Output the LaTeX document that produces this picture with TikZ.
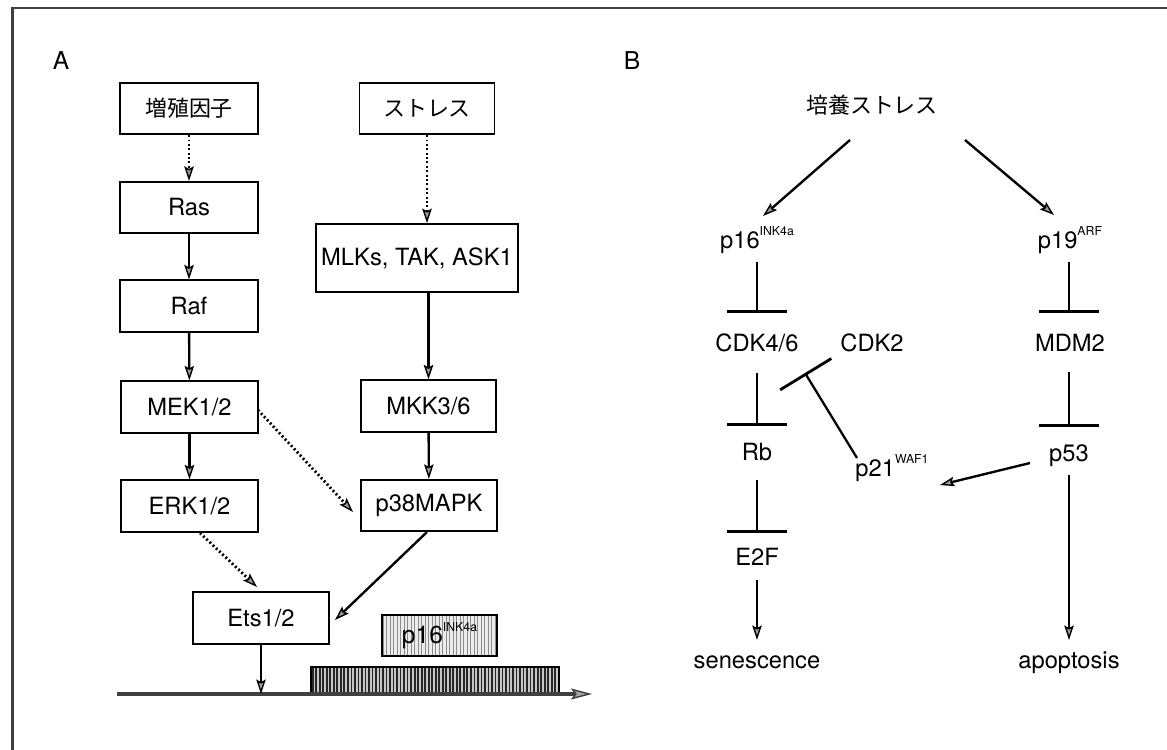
\documentclass[tikz,border=0pt]{standalone}
\usepackage{fontspec}
\setmainfont{TeX Gyre Heros}
\newfontfamily\jpfont{Noto Sans CJK JP}
\usetikzlibrary{arrows.meta,patterns.meta}
\newcommand{\supx}[1]{\raisebox{7pt}{\fontsize{7}{8}\selectfont #1}}

\begin{document}
\begin{tikzpicture}[x=0.02cm,y=-0.02cm,
  lbl/.style={font=\fontsize{13.5}{16}\selectfont, inner sep=0pt, text height=10pt, text depth=3pt},
  jlbl/.style={lbl, font=\jpfont\fontsize{12.5}{15}\selectfont},
  box/.style={draw, line width=1pt, rectangle, inner sep=0pt, minimum width=2.76cm,
              minimum height=1.03cm, font=\fontsize{13.5}{16}\selectfont},
  jbox/.style={box, font=\jpfont\fontsize{12.5}{15}\selectfont},
  arrhead/.style={-{Stealth[length=0.29cm,width=0.19cm,inset=0.05cm,fill=gray!75,line width=0.8pt]}},
  act/.style={line width=1.35pt, arrhead},
  dotact/.style={act, line width=1.6pt, dash pattern=on 1.1pt off 1.4pt},
  inh/.style={line width=1.3pt, -{Bar[width=1.2cm,line width=1.6pt]}},
]
\useasboundingbox (0,0) rectangle (1167,750);

% outer frame
\draw[line width=1.2pt, black!75] (12.5,750) -- (12.5,8) -- (1167,8);

% panel letters
\node[lbl, font=\fontsize{14}{16}\selectfont] (labA) at (61,63) {A};
\node[lbl, font=\fontsize{14}{16}\selectfont] (labB) at (632,63) {B};

% ---------- panel A: kinase cascades ----------
\node[jbox] (gf)  at (189,108.5) {増殖因子};
\node[jbox, minimum width=2.7cm] (st) at (427,108.5) {ストレス};
\node[box] (ras)  at (189,207.5) {Ras};
\node[box] (raf)  at (189,306) {Raf};
\node[box, minimum width=4.04cm, minimum height=1.36cm] (mlk) at (417,258) {MLKs, TAK, ASK1};
\node[box, minimum width=2.74cm] (mek) at (189.5,407) {MEK1/2};
\node[box, minimum width=2.7cm]  (mkk) at (428.5,406) {MKK3/6};
\node[box, minimum width=2.74cm] (erk) at (189.5,506) {ERK1/2};
\node[box, minimum width=2.72cm] (p38) at (429,505.5) {p38MAPK};
\node[box, minimum width=2.72cm] (ets) at (261,618) {Ets1/2};

% p16 gene: transcribed region and label
\node[draw, line width=0.8pt, minimum width=4.96cm, minimum height=0.52cm, inner sep=0pt,
      preaction={fill=gray!45},
      pattern={Lines[angle=90,distance=2pt,line width=1pt]}, pattern color=black!85]
      (exon) at (435,680) {};
\node[draw, line width=0.8pt, minimum width=2.3cm, minimum height=0.82cm, inner sep=0pt,
      preaction={fill=gray!15},
      pattern={Lines[angle=90,distance=2pt,line width=0.55pt]}, pattern color=black!45]
      (gene) at (439.5,635.5) {};
\node[font=\fontsize{14}{16}\selectfont, inner sep=0pt] (genelbl) at (gene.center) {p16\supx{INK4a}};

\coordinate (dnaL) at (117,694);
\coordinate (dnaR) at (592,694);
\draw[line width=1.9pt, black!75,
      -{Stealth[length=0.42cm,width=0.22cm,inset=0.08cm,fill=gray!70,line width=0.8pt]}] (dnaL) -- (dnaR);

\draw[dotact] (gf) -- (ras);
\draw[dotact] (st.south) -- (st.south |- mlk.north);
\draw[act] (ras) -- (raf);
\draw[act] (raf) -- (mek);
\draw[act] (mkk.north |- mlk.south) -- (mkk.north);
\draw[act] (mek) -- (erk);
\draw[act] (mkk) -- (p38);
\draw[dotact] ([shift={(68.5,3)}]mek.center) -- ([shift={(-76,6.5)}]p38.center);
\draw[dotact] ([shift={(10.5,27)}]erk.center) -- ([shift={(-4,-31)}]ets.center);
\draw[act] ([shift={(-2,26.5)}]p38.center) -- ([shift={(74,2)}]ets.center);
\draw[act] (ets.south) -- (ets.south |- dnaL);

% ---------- panel B: culture stress pathways ----------
\node[jlbl] (kst)   at (872,107) {培養ストレス};
\node[lbl] (p16b)  at (757,242) {p16\supx{INK4a}};
\node[lbl] (p19)   at (1070,242) {p19\supx{ARF}};
\node[lbl] (cdk46) at (757,345) {CDK4/6};
\node[lbl] (cdk2)  at (872,345) {CDK2};
\node[lbl] (mdm2)  at (1070,345) {MDM2};
\node[lbl] (rb)    at (757,454) {Rb};
\node[lbl] (p53)   at (1069,455) {p53};
\node[lbl] (p21)   at (892,470) {p21\supx{WAF1}};
\node[lbl] (e2f)   at (757,559) {E2F};
\node[lbl] (sen)   at (757,662) {senescence};
\node[lbl] (apo)   at (1069,662) {apoptosis};
\coordinate (cdkx) at (805,373);

\draw[act] ([shift={(-22,33)}]kst.center) -- ([shift={(6,-26)}]p16b.center);
\draw[act] ([shift={(93,33)}]kst.center) -- ([shift={(-16,-27)}]p19.center);
\draw[inh] ([shift={(0,20)}]p16b.center) -- ([shift={(0,-32)}]cdk46.center);
\draw[inh] ([shift={(-1,20)}]p19.center) -- ([shift={(-1,-32)}]mdm2.center);
\draw[inh] ([shift={(0,28)}]cdk46.center) -- ([shift={(0,-28)}]rb.center);
\draw[inh] ([shift={(-1,27)}]mdm2.center) -- ([shift={(0,-28)}]p53.center);
\draw[inh] ([shift={(0,26)}]rb.center) -- ([shift={(0,-26)}]e2f.center);
\draw[act] ([shift={(0,21)}]e2f.center) -- ([shift={(0,-22)}]sen.center);
\draw[act] ([shift={(0,20)}]p53.center) -- ([shift={(0,-22)}]apo.center);
\draw[act] ([shift={(-39,8)}]p53.center) -- ([shift={(48,15)}]p21.center);
\draw[inh] ([shift={(-35,-12)}]p21.center) -- (cdkx);
\end{tikzpicture}
\end{document}
